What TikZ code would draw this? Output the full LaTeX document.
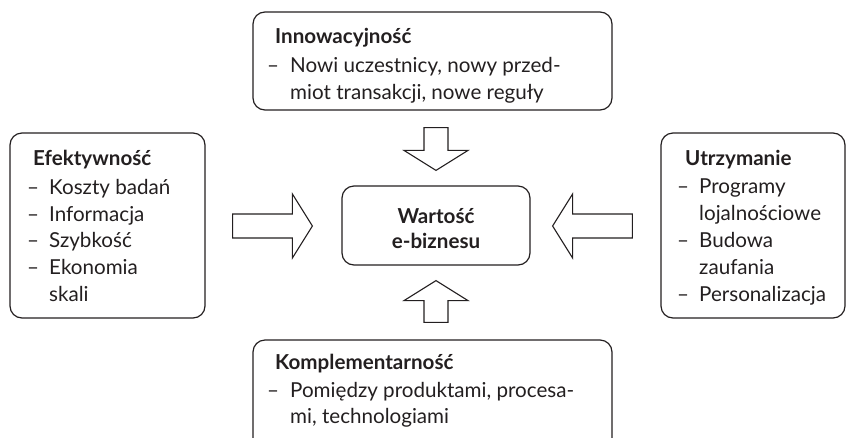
\documentclass[tikz,border=0pt]{standalone}
\usepackage{fontspec}
\setmainfont{Lato}
\usetikzlibrary{calc}
\definecolor{ink}{HTML}{231F20}

% block arrow from #1 (tail) to #2 (tip)
\newcommand\fatarrow[2]{%
  \coordinate (hb) at ($(#2)!20pt!(#1)$);
  \draw[blockarrow]
    ($(#1)!12pt!90:(#2)$) -- ($(hb)!12pt!90:(#2)$) -- ($(hb)!32pt!90:(#2)$)
    -- (#2)
    -- ($(hb)!32pt!-90:(#2)$) -- ($(hb)!12pt!-90:(#2)$) -- ($(#1)!12pt!-90:(#2)$)
    -- cycle;}

\begin{document}
\begin{tikzpicture}[x=1pt,y=-1pt,
  box/.style={draw=ink, line width=1.2pt, rounded corners=12pt, inner sep=0pt},
  blockarrow/.style={draw=ink, line width=1.1pt, fill=white, line join=miter},
  txt/.style={anchor=base west, inner sep=0pt, text=ink, font=\fontsize{20.6}{26}\selectfont},
  ttl/.style={txt, font=\fontsize{20.6}{26}\selectfont\bfseries},
  ctr/.style={anchor=base, inner sep=0pt, text=ink, font=\fontsize{20.6}{26}\selectfont\bfseries}]
\useasboundingbox (0,0) rectangle (848,437);
\clip (0,0) rectangle (848,437);

% boxes
\node[box, minimum width=359pt, minimum height=98pt]  (inn)  at (432.5,61)    {};
\node[box, minimum width=195pt, minimum height=185pt] (eff)  at (107.5,225.5) {};
\node[box, minimum width=184pt, minimum height=185pt] (ret)  at (753,225.5)   {};
\node[box, minimum width=359pt, minimum height=110pt] (comp) at (432.5,395)   {};
\node[box, minimum width=188pt, minimum height=79pt]  (core) at (436,225.5)   {};

% arrows into the centre
\coordinate (lt) at ($(eff.east)+(27,0.5)$);  \coordinate (lp) at ($(core.west)+(-29,0.5)$);
\coordinate (rt) at ($(ret.west)+(-28,0.5)$); \coordinate (rp) at ($(core.east)+(22,0.5)$);
\coordinate (tt) at ($(inn.south)+(3.5,17)$); \coordinate (tp) at ($(core.north)+(0,-15)$);
\coordinate (bt) at ($(comp.north)+(3.5,-17)$); \coordinate (bp) at ($(core.south)+(0,15)$);
\fatarrow{lt}{lp}
\fatarrow{rt}{rp}
\fatarrow{tt}{tp}
\fatarrow{bt}{bp}

% centre
\node[ctr] (c1) at (436,223) {Wartość};
\node[ctr] (c2) at (436,248) {e-biznesu};

% top box
\node[ttl] (i0) at (275,43) {Innowacyjność};
\node[txt] (i1d) at (267,72) {–};
\node[txt] (i1) at (290,72) {Nowi uczestnicy, nowy przed-};
\node[txt] (i2) at (290,99) {miot transakcji, nowe reguły};

% left box
\node[ttl] (e0) at (33,165) {Efektywność};
\node[txt] (e1d) at (27,194) {–}; \node[txt] (e1) at (49,194) {Koszty badań};
\node[txt] (e2d) at (27,221) {–}; \node[txt] (e2) at (49,221) {Informacja};
\node[txt] (e3d) at (27,247) {–}; \node[txt] (e3) at (49,247) {Szybkość};
\node[txt] (e4d) at (27,274) {–}; \node[txt] (e4) at (49,274) {Ekonomia};
\node[txt] (e5) at (49,301) {skali};

% right box
\node[ttl] (r0) at (685,165) {Utrzymanie};
\node[txt] (r1d) at (677,193) {–}; \node[txt] (r1) at (699,193) {Programy};
\node[txt] (r2) at (699,220) {lojalnościowe};
\node[txt] (r3d) at (677,247) {–}; \node[txt] (r3) at (699,247) {Budowa};
\node[txt] (r4) at (699,274) {zaufania};
\node[txt] (r5d) at (677,301) {–}; \node[txt] (r5) at (699,301) {Personalizacja};

% bottom box
\node[ttl] (k0) at (275,369) {Komplementarność};
\node[txt] (k1d) at (267,397) {–};
\node[txt] (k1) at (290,397) {Pomiędzy produktami, procesa-};
\node[txt] (k2) at (290,423) {mi, technologiami};
\end{tikzpicture}
\end{document}
